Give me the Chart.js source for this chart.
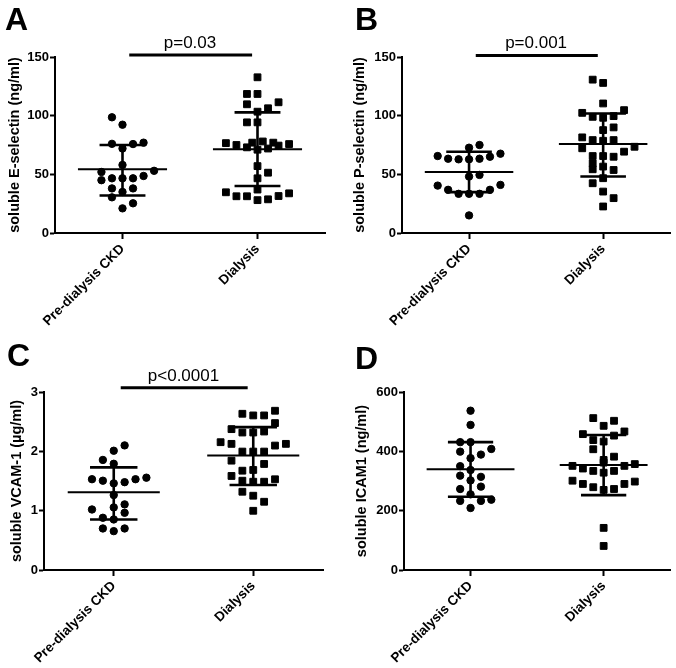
<!DOCTYPE html>
<html>
<head>
<meta charset="utf-8">
<script src="https://cdn.jsdelivr.net/npm/chart.js@4.4.0/dist/chart.umd.min.js"></script>
<style>
body{margin:0;background:#fff;}
#grid{display:grid;grid-template-columns:338px 338px;grid-template-rows:334px 334px;width:676px;height:668px;}
canvas{display:block;}
</style>
</head>
<body>
<div id="grid">
<canvas id="chartA" width="338" height="334"></canvas>
<canvas id="chartB" width="338" height="334"></canvas>
<canvas id="chartC" width="338" height="334"></canvas>
<canvas id="chartD" width="338" height="334"></canvas>
</div>
<script>
const groups = ['Pre-dialysis CKD', 'Dialysis'];

// A: soluble E-selectin (ng/ml)
const eSelPre = [98.6, 92.3, 76, 72, 75.8, 77, 58, 53, 52, 48.6, 46.6, 46.6, 46.6, 45, 38, 38, 35, 30.4, 25.3, 21];
const eSelPreSlot = [-1, 0, -1, 0, 1, 2, 0, 3, -2, 2, -1, 0, 1, -2, -1, 1, 0, -1, 1, 0];
const eSelDia = [132.7, 118.5, 118.5, 109.7, 111.4, 106.3, 103.4, 94.3, 94.3, 76.6, 75, 73, 77, 71, 78, 72, 77, 74.5, 75.8, 57, 51.4, 46.6, 37, 34.7, 31.3, 31.3, 28, 28.7, 31.5, 33.8];
const eSelDiaSlot = [0, -1, 0, -1, 2, 1, 0, -1, 0, -3, -2, -1, -0.5, 0, 0.5, 1, 1.5, 2, 3, 0, 1, 0, 0, -3, -2, -1, 0, 1, 2, 3];
const eSelMean = [54.3, 71.3];
const eSelUpper = [75, 102.8];
const eSelLower = [32, 40];
const eSelTicks = [0, 50, 100, 150];

// B: soluble P-selectin (ng/ml)
const pSelPre = [72.7, 75, 65.6, 63.3, 62.8, 62.8, 63.3, 65, 67.6, 48.1, 49.5, 40.4, 36.8, 33.4, 33.4, 33.4, 36.8, 41, 15];
const pSelPreSlot = [0, 1, -3, -2, -1, 0, 1, 2, 3, 0, 1, -3, -2, -1, 0, 1, 2, 3, 0];
const pSelDia = [130.7, 127.9, 110.4, 102.4, 99, 98.2, 99.6, 104.7, 87.7, 90, 81.5, 79.2, 78.6, 79.2, 72.2, 73.5, 69.3, 65.6, 59.4, 54.3, 65.6, 65, 56.6, 53.7, 46.7, 42.4, 35.3, 29.7, 22.6];
const pSelDiaSlot = [-1, 0, 0, -2, -1, 0, 1, 2, 0, 1, -2, -1, 0, 1, -2, 3, 2, -1, -1, -1, 0, 1, 0, 1, 0, -1, 0, 1, 0];
const pSelMean = [52, 75.8];
const pSelUpper = [69.3, 101.9];
const pSelLower = [34.8, 48.1];
const pSelTicks = [0, 50, 100, 150];

// C: soluble VCAM-1 (µg/ml)
const vcamPre = [2.10, 2.01, 1.855, 1.79, 1.53, 1.505, 1.46, 1.48, 1.53, 1.556, 1.263, 1.055, 1.106, 0.964, 1.02, 0.88, 0.852, 0.70, 0.655, 0.70];
const vcamPreSlot = [1, 0, -1, 0, -2, -1, 0, 1, 2, 3, 0, 0, 1, 1, -2, -1, 0, -1, 0, 1];
const vcamDia = [2.633, 2.605, 2.605, 2.684, 2.476, 2.374, 2.317, 2.317, 2.334, 2.154, 2.126, 2.097, 2.126, 1.996, 1.996, 1.996, 1.843, 1.787, 1.674, 1.686, 1.585, 1.505, 1.488, 1.488, 1.529, 1.319, 1.252, 1.15, 0.998];
const vcamDiaSlot = [-1, 0, 1, 2, 2, -2, -1, 0, 1, -3, -2, 2, 3, -1, 0, 1, -2, 1, -1, 0, -2, -1, 0, 1, 2, -1, 0, 1, 0];
const vcamMean = [1.31, 1.928];
const vcamUpper = [1.73, 2.408];
const vcamLower = [0.85, 1.432];
const vcamTicks = [0, 1, 2, 3];

// D: soluble ICAM1 (ng/ml)
const icamPre = [537, 489, 431, 431, 399, 389, 408, 377, 350, 337, 318, 314, 302, 273, 281, 255, 233, 233, 237, 209];
const icamPreSlot = [0, 0, -1, 0, -1, 1, 2, 0, -1, 0, -1, 1, 0, -1, 1, 0, -1, 1, 2, 0];
const icamDia = [512, 486, 503, 458, 467, 438, 433, 453, 407, 382, 371, 362, 351, 342, 334, 334, 351, 357, 328, 301, 290, 279, 270, 273, 290, 298, 142, 81];
const icamDiaSlot = [-1, 0, 1, -2, 2, -1, 0, 1, -1, 1, 0, 0, -3, -2, -1, 1, 2, 3, 0, -3, -2, -1, 0, 1, 2, 3, 0, 0];
const icamMean = [339.5, 354];
const icamUpper = [431, 455];
const icamLower = [247, 252.5];
const icamTicks = [0, 200, 400, 600];

const FONT = "'Liberation Sans', Arial, sans-serif";
const STEP = 0.078;

function pts(vals, slots, c) {
  return vals.map((v, i) => ({x: c + slots[i] * STEP, y: v}));
}
function meanLines(mean) {
  var out = [];
  for (var c = 0; c < mean.length; c++) {
    out.push({x: c - 0.33, y: mean[c]}, {x: c + 0.33, y: mean[c]}, {x: c, y: null});
  }
  return out;
}
function sdLines(up, lo) {
  var out = [];
  for (var c = 0; c < up.length; c++) {
    out.push({x: c - 0.17, y: up[c]}, {x: c + 0.17, y: up[c]}, {x: c, y: null});
    out.push({x: c - 0.17, y: lo[c]}, {x: c + 0.17, y: lo[c]}, {x: c, y: null});
    out.push({x: c, y: up[c]}, {x: c, y: lo[c]}, {x: c, y: null});
  }
  return out;
}

const labelPlugin = {
  id: 'labels',
  afterDraw(chart, args, o) {
    const ctx = chart.ctx;
    ctx.save();
    ctx.fillStyle = '#000';
    ctx.font = 'bold 32px ' + FONT;
    ctx.textAlign = 'left';
    ctx.textBaseline = 'alphabetic';
    ctx.fillText(o.letter, o.lx, o.ly);
    if (o.p) {
      const xs = chart.scales.x, ys = chart.scales.y;
      ctx.font = '17px ' + FONT;
      ctx.textAlign = 'center';
      ctx.fillText(o.p, xs.getPixelForValue(0.5), ys.getPixelForValue(o.pY) - 7);
    }
    ctx.restore();
  }
};

function makePanel(id, cfg) {
  const datasets = [
    {data: pts(cfg.pre, cfg.preSlot, 0), pointStyle: 'circle', pointRadius: 3.7, backgroundColor: '#000', borderColor: '#000', borderWidth: 1},
    {data: pts(cfg.dia, cfg.diaSlot, 1), pointStyle: 'rect', pointRadius: 4.8, backgroundColor: '#000', borderColor: '#000', borderWidth: 1},
    {data: meanLines(cfg.mean), showLine: true, spanGaps: false, pointRadius: 0, borderColor: '#000', borderWidth: 2},
    {data: sdLines(cfg.upper, cfg.lower), showLine: true, spanGaps: false, pointRadius: 0, borderColor: '#000', borderWidth: 2.6}
  ];
  if (cfg.p) {
    datasets.push({data: [{x: 0.05, y: cfg.pY}, {x: 0.96, y: cfg.pY}], showLine: true, pointRadius: 0, borderColor: '#000', borderWidth: 3, clip: false});
  }
  new Chart(document.getElementById(id), {
    type: 'scatter',
    data: {datasets: datasets},
    options: {
      responsive: false,
      animation: false,
      layout: {padding: {top: cfg.top, right: cfg.right, left: 0, bottom: 0}},
      plugins: {
        legend: {display: false},
        tooltip: {enabled: false},
        labels: {letter: cfg.letter, lx: cfg.lx, ly: cfg.ly, p: cfg.p, pY: cfg.pY}
      },
      scales: {
        x: {
          type: 'linear', min: -0.5, max: 1.5,
          afterBuildTicks: ax => { ax.ticks = groups.map((g, i) => ({value: i})); },
          afterFit: ax => { ax.height = cfg.xh; },
          border: {display: true, color: '#000', width: 2},
          grid: {drawOnChartArea: false, drawTicks: true, tickLength: 6, tickColor: '#000', tickWidth: 2},
          ticks: {
            color: '#000', minRotation: 45, maxRotation: 45, padding: 2, autoSkip: false,
            font: {family: FONT, size: 13.5, weight: 'bold'},
            callback: v => groups[v]
          }
        },
        y: {
          min: 0, max: cfg.ticks[cfg.ticks.length - 1],
          afterBuildTicks: ax => { ax.ticks = cfg.ticks.map(v => ({value: v})); },
          afterFit: ax => { ax.width = cfg.yw; },
          border: {display: true, color: '#000', width: 2},
          grid: {drawOnChartArea: false, drawTicks: true, tickLength: 5, tickColor: '#000', tickWidth: 2},
          ticks: {color: '#000', padding: 1, font: {family: FONT, size: 13, weight: 'bold'}},
          title: {display: true, text: cfg.title, color: '#000', padding: {top: cfg.tp, bottom: 0}, font: {family: FONT, size: 14.5, weight: 'bold'}}
        }
      }
    },
    plugins: [labelPlugin]
  });
}

makePanel('chartA', {pre: eSelPre, preSlot: eSelPreSlot, dia: eSelDia, diaSlot: eSelDiaSlot, mean: eSelMean, upper: eSelUpper, lower: eSelLower, ticks: eSelTicks,
  title: 'soluble E-selectin (ng/ml)', letter: 'A', lx: 5, ly: 30, p: 'p=0.03', pY: 151.7, top: 57, right: 13, yw: 55, xh: 101, tp: 6});
makePanel('chartB', {pre: pSelPre, preSlot: pSelPreSlot, dia: pSelDia, diaSlot: pSelDiaSlot, mean: pSelMean, upper: pSelUpper, lower: pSelLower, ticks: pSelTicks,
  title: 'soluble P-selectin (ng/ml)', letter: 'B', lx: 17, ly: 30, p: 'p=0.001', pY: 151.3, top: 57, right: 5, yw: 64, xh: 101, tp: 13});
makePanel('chartC', {pre: vcamPre, preSlot: vcamPreSlot, dia: vcamDia, diaSlot: vcamDiaSlot, mean: vcamMean, upper: vcamUpper, lower: vcamLower, ticks: vcamTicks,
  title: 'soluble VCAM-1 (µg/ml)', letter: 'C', lx: 7, ly: 32, p: 'p<0.0001', pY: 3.07, top: 58, right: 15, yw: 44, xh: 98, tp: 8});
makePanel('chartD', {pre: icamPre, preSlot: icamPreSlot, dia: icamDia, diaSlot: icamDiaSlot, mean: icamMean, upper: icamUpper, lower: icamLower, ticks: icamTicks,
  title: 'soluble ICAM1 (ng/ml)', letter: 'D', lx: 17, ly: 35, p: null, pY: 0, top: 58, right: 4, yw: 66, xh: 98, tp: 15});
</script>
</body>
</html>
